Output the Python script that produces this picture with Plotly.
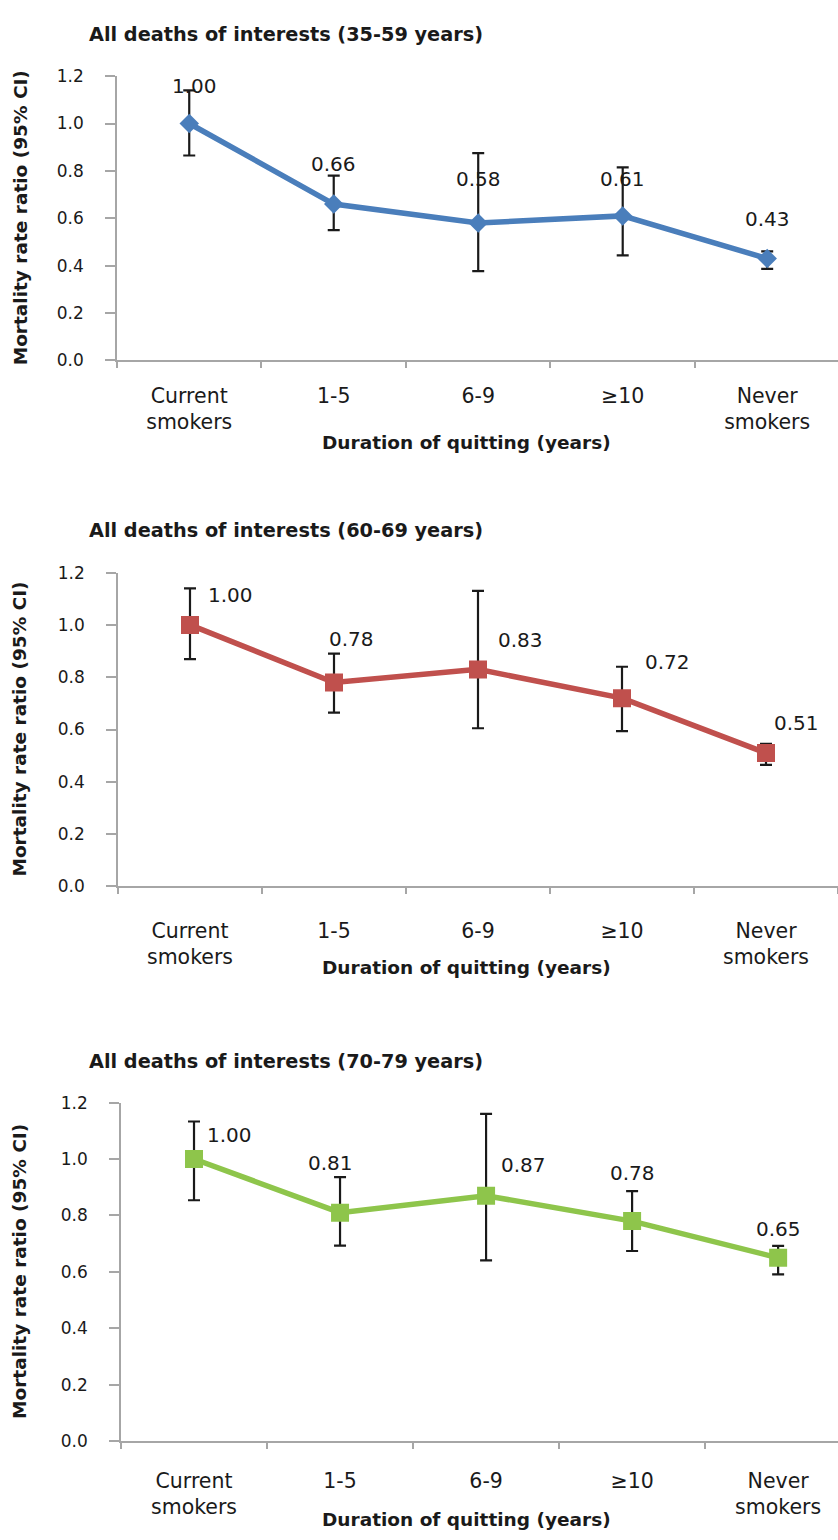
import plotly.graph_objects as go

# ---------------- data ----------------
categories = ["Current smokers", "1-5", "6-9", "≥10", "Never smokers"]
tick_text = ["Current<br>smokers", "1-5", "6-9", "≥10", "Never<br>smokers"]

titles = [
    "All deaths of interests (35-59 years)",
    "All deaths of interests (60-69 years)",
    "All deaths of interests (70-79 years)",
]

rr_35_59 = [1.00, 0.66, 0.58, 0.61, 0.43]
upper_35_59 = [1.14, 0.78, 0.875, 0.815, 0.46]
lower_35_59 = [0.865, 0.55, 0.377, 0.443, 0.386]

rr_60_69 = [1.00, 0.78, 0.83, 0.72, 0.51]
upper_60_69 = [1.14, 0.89, 1.13, 0.84, 0.545]
lower_60_69 = [0.869, 0.665, 0.605, 0.594, 0.465]

rr_70_79 = [1.00, 0.81, 0.87, 0.78, 0.65]
upper_70_79 = [1.133, 0.936, 1.16, 0.886, 0.692]
lower_70_79 = [0.854, 0.693, 0.641, 0.674, 0.591]

y_ticks = [0.0, 0.2, 0.4, 0.6, 0.8, 1.0, 1.2]

x_title = "Duration of quitting (years)"
y_title = "Mortality rate ratio (95% CI)"

# ---------------- style ----------------
W, H = 838, 1540
FONT = "DejaVu Sans"
TXT = "#1a1a1a"
GRAY = "#a6a6a6"
colors = ["#4a7ebb", "#c0504d", "#8ec54b"]
symbols = ["diamond", "square", "square"]
msizes = [15, 18, 18]

# pixel layout per panel: (plot left, plot top, plot bottom, x range max)
panels_px = [
    (117, 67, 355, 4.49),
    (118, 570, 888, 4.50),
    (121, 1107, 1450, 4.41),
]
title_y_px = [25, 527, 1065]
xtitle_y_px = [438, 970, 1529]
tick_standoff = [16, 25, 20]
# label offsets (px) relative to each point
label_dx = [[5, 0, 0, 0, 0], [40, 17, 42, 45, 30], [35, -10, 37, 0, 0]]
label_dy = [[38, 40, 44, 37, 40], [30, 43, 29, 36, 30], [24, 50, 31, 48, 29]]

series = [
    (rr_35_59, upper_35_59, lower_35_59),
    (rr_60_69, upper_60_69, lower_60_69),
    (rr_70_79, upper_70_79, lower_70_79),
]


def py(px):
    return (H - px) / H


fig = go.Figure()
annotations = []

for i, (vals, up, lo) in enumerate(series):
    n = "" if i == 0 else str(i + 1)
    left, top, bottom, xmax = panels_px[i]
    fig.add_trace(
        go.Scatter(
            x=categories,
            y=vals,
            mode="lines+markers",
            line=dict(color=colors[i], width=5.5),
            marker=dict(symbol=symbols[i], size=msizes[i], color=colors[i]),
            error_y=dict(
                type="data",
                symmetric=False,
                array=[u - v for u, v in zip(up, vals)],
                arrayminus=[v - l for v, l in zip(vals, lo)],
                color=TXT,
                thickness=2.2,
                width=6,
            ),
            xaxis="x" + n,
            yaxis="y" + n,
            showlegend=False,
            hoverinfo="skip",
        )
    )
    fig.update_layout(
        {
            "xaxis" + n: dict(
                domain=[left / W, 1],
                anchor="y" + n,
                type="category",
                categoryorder="array",
                categoryarray=categories,
                range=[-0.5, xmax],
                tickmode="array",
                tickvals=categories,
                ticktext=tick_text,
                tickson="boundaries",
                ticks="outside",
                ticklen=6,
                tickwidth=1.5,
                tickcolor=GRAY,
                showline=True,
                linecolor=GRAY,
                linewidth=1.5,
                showgrid=False,
                zeroline=False,
                ticklabelstandoff=tick_standoff[i],
                tickfont=dict(family=FONT, size=20.5, color=TXT),
                fixedrange=True,
            ),
            "yaxis" + n: dict(
                domain=[py(bottom), py(top)],
                anchor="x" + n,
                range=[0, 1.2],
                tickmode="array",
                tickvals=y_ticks,
                ticktext=[f"{t:.1f}" for t in y_ticks],
                ticks="outside",
                ticklen=10,
                tickwidth=1.5,
                tickcolor=GRAY,
                showline=True,
                linecolor=GRAY,
                linewidth=1.5,
                showgrid=False,
                zeroline=False,
                ticklabelstandoff=18,
                tickfont=dict(family=FONT, size=17, color=TXT),
                fixedrange=True,
            ),
        }
    )
    # data labels
    for j, (c, v) in enumerate(zip(categories, vals)):
        annotations.append(
            dict(
                x=c, y=v, xref="x" + n, yref="y" + n,
                text=f"{v:.2f}", showarrow=False,
                xshift=label_dx[i][j], yshift=label_dy[i][j],
                font=dict(family=FONT, size=20, color=TXT),
            )
        )
    # panel title
    annotations.append(
        dict(
            x=87 / W, y=py(title_y_px[i]), xref="paper", yref="paper",
            xanchor="left", yanchor="middle",
            text="<b>" + titles[i] + "</b>", showarrow=False,
            font=dict(family=FONT, size=19.3, color=TXT),
        )
    )
    # x axis title
    annotations.append(
        dict(
            x=466 / W, y=py(xtitle_y_px[i]), xref="paper", yref="paper",
            xanchor="center", yanchor="middle",
            text="<b>" + x_title + "</b>", showarrow=False,
            font=dict(family=FONT, size=18.5, color=TXT),
        )
    )
    # y axis title
    annotations.append(
        dict(
            x=20 / W, y=py((top + bottom) / 2), xref="paper", yref="paper",
            xanchor="center", yanchor="middle", textangle=-90,
            text="<b>" + y_title + "</b>", showarrow=False,
            font=dict(family=FONT, size=18.5, color=TXT),
        )
    )

fig.update_layout(
    width=W,
    height=H,
    margin=dict(l=0, r=0, t=0, b=0, pad=0),
    paper_bgcolor="white",
    plot_bgcolor="white",
    annotations=annotations,
    font=dict(family=FONT),
)

post = (
    "document.body.style.margin='0';"
    "document.documentElement.style.overflow='hidden';"
    "var d=document.getElementById('{plot_id}');"
    "d.style.position='absolute';d.style.top='0px';d.style.left='0px';"
)
fig.write_html("out.html", config={"displayModeBar": False}, post_script=post)
